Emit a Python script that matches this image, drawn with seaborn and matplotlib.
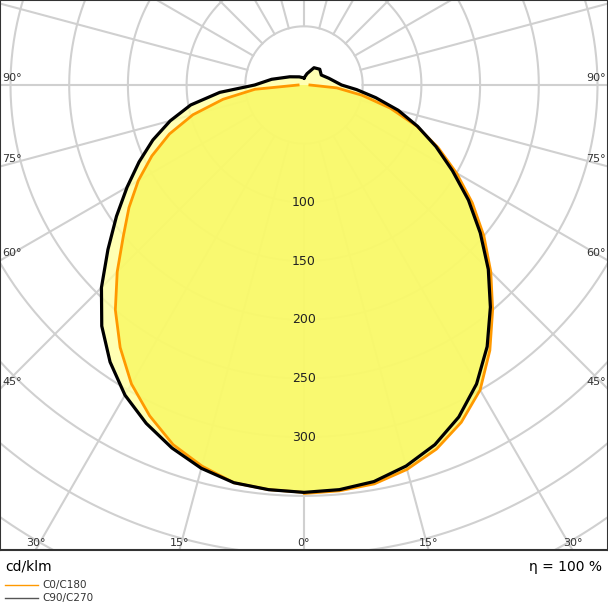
import numpy as np
import matplotlib
matplotlib.use("Agg")
import matplotlib.pyplot as plt
import seaborn as sns

# Intensity data (cd/klm) by angle from nadir (deg)
c90_left_ang = [0, 5, 10, 15, 20, 25, 30, 35, 40, 45, 50, 55, 60, 65, 70, 75, 80, 85, 90, 100, 120, 150, 180]
c90_left_val = [347, 346, 344, 338, 329, 318, 305, 288, 268, 244, 218, 195, 174, 155, 137, 118, 98, 72, 42, 28, 14, 8, 6]
c90_right_ang = [0, 5, 10, 15, 20, 25, 30, 35, 40, 45, 50, 55, 60, 65, 70, 75, 80, 85, 90, 105, 120, 135, 150, 165, 180]
c90_right_val = [347, 346, 343, 336, 326, 312, 294, 272, 247, 222, 196, 171, 146, 124, 103, 83, 62, 45, 32, 22, 17, 19, 17, 10, 6]
c0_left_ang = [0, 5, 10, 15, 20, 25, 30, 35, 40, 45, 50, 55, 60, 65, 70, 75, 80, 85, 90]
c0_left_val = [347, 346, 344, 336, 326, 311, 294, 273, 250, 225, 201, 182, 163, 143, 122, 98, 70, 42, 5]
c0_right_ang = [0, 5, 10, 15, 20, 25, 30, 35, 40, 45, 50, 55, 60, 65, 70, 75, 80, 85, 90]
c0_right_val = [348, 347, 345, 339, 330, 317, 300, 276, 250, 225, 200, 175, 150, 126, 102, 76, 50, 28, 5]
grid_radii = [50, 100, 150, 200, 250, 300, 350, 400, 450, 500, 550]
radial_labels = [100, 150, 200, 250, 300]
angle_labels = [90, 75, 60, 45]
bottom_labels = [30, 15, 0]

def xy(ang_l, val_l, ang_r, val_r):
    al = np.radians(np.array(ang_l)); vl = np.array(val_l)
    ar = np.radians(np.array(ang_r)); vr = np.array(val_r)
    xl = -vl * np.sin(al); yl = -vl * np.cos(al)
    xr = vr * np.sin(ar); yr = -vr * np.cos(ar)
    x = np.concatenate([xl[::-1], xr]); y = np.concatenate([yl[::-1], yr])
    return x, y

S = 1.174
XL, XR = -304 / S, 304 / S
YT, YB = 85 / S, -(550 - 85) / S

fig = plt.figure(figsize=(6.08, 6.08), dpi=100)
ax = fig.add_axes([0, 1 - 550 / 608, 1, 550 / 608])
ax.set_xlim(XL, XR); ax.set_ylim(YB, YT)
ax.set_xticks([]); ax.set_yticks([])
for s in ax.spines.values():
    s.set_color("#333333"); s.set_linewidth(1.5)

gc = "#d0d0d0"
t = np.linspace(0, 2 * np.pi, 400)
for r in grid_radii:
    ax.plot(r * np.cos(t), r * np.sin(t), color=gc, lw=1.5, zorder=1)
for a in range(0, 360, 15):
    ar = np.radians(a)
    ax.plot([50 * np.sin(ar), 700 * np.sin(ar)], [-50 * np.cos(ar), -700 * np.cos(ar)],
            color=gc, lw=1.5, zorder=1)

bx, by = xy(c90_left_ang, c90_left_val, c90_right_ang, c90_right_val)
ox, oy = xy(c0_left_ang, c0_left_val, c0_right_ang, c0_right_val)
ax.fill(bx, by, color="#ffffa0", alpha=0.8, zorder=2, lw=0)
ax.fill(ox, oy, color="#f8f860", alpha=0.8, zorder=2, lw=0)

sns.lineplot(x=ox, y=oy, sort=False, color="#ff9900", lw=2, ax=ax, zorder=4, estimator=None)
sns.lineplot(x=bx, y=by, sort=False, color="black", lw=2.3, ax=ax, zorder=5, estimator=None)

for r in radial_labels:
    ax.text(0, -r, str(r), ha="center", va="center", fontsize=9, color="#222222", zorder=6)
for a in angle_labels:
    yy = -XR / np.tan(np.radians(a)) if a != 90 else 0
    ax.text(XL + 2, yy + 6, f"{a}°", ha="left", va="center", fontsize=8, color="#333333")
    ax.text(XR - 2, yy + 6, f"{a}°", ha="right", va="center", fontsize=8, color="#333333")
for a in bottom_labels:
    xx = -YB * np.tan(np.radians(a))
    ax.text(-xx, YB + 6, f"{a}°", ha="center", va="center", fontsize=8, color="#333333")
    if a != 0:
        ax.text(xx, YB + 6, f"{a}°", ha="center", va="center", fontsize=8, color="#333333")

fig.text(5 / 608, 1 - 567 / 608, "cd/klm", ha="left", va="center", fontsize=10)
fig.text(602 / 608, 1 - 567 / 608, "η = 100 %", ha="right", va="center", fontsize=10)
fig.lines.append(plt.Line2D([5 / 608, 38 / 608], [1 - 585 / 608] * 2, color="#ff9900", lw=1, transform=fig.transFigure))
fig.lines.append(plt.Line2D([5 / 608, 38 / 608], [1 - 598 / 608] * 2, color="#555555", lw=1, transform=fig.transFigure))
fig.text(42 / 608, 1 - 585 / 608, "C0/C180", ha="left", va="center", fontsize=7.5, color="#333333")
fig.text(42 / 608, 1 - 598 / 608, "C90/C270", ha="left", va="center", fontsize=7.5, color="#333333")

fig.savefig("out.png", dpi=100)
